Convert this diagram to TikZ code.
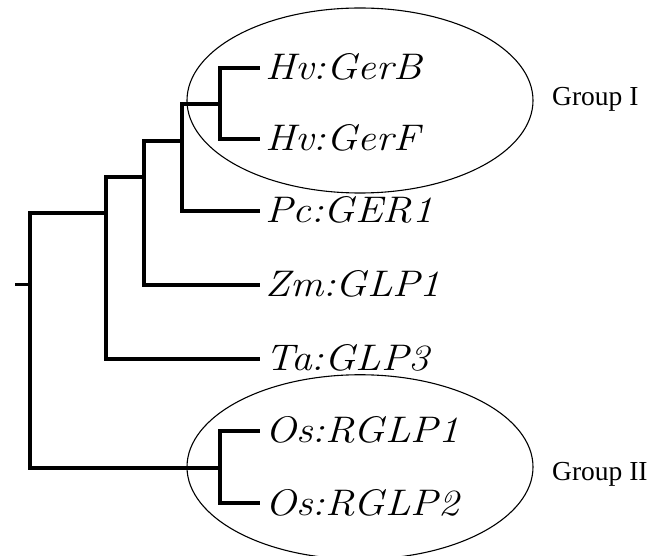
\documentclass[tikz,border=0pt]{standalone}
\usepackage{fontspec}
\usepackage{graphicx}
\newfontfamily\timesfont{Liberation Serif}
\usetikzlibrary{shapes.geometric}
\newcommand{\wideleaf}[1]{\scalebox{1.12}[1]{#1}}
\tikzset{
  branch/.style={line width=4pt, line join=miter, line cap=rect},
  leaf/.style={anchor=west, inner xsep=7pt, inner ysep=0pt, text height=24pt, text depth=0pt,
    font=\fontsize{37}{40}\selectfont\itshape},
  grp/.style={draw, ellipse, line width=1.1pt, inner sep=0pt},
  grplabel/.style={anchor=base west, inner sep=0pt, font=\timesfont\fontsize{27.5}{30}\selectfont},
}
\begin{document}
\begin{tikzpicture}[x=1pt,y=-1pt]
\useasboundingbox (0,0) rectangle (657,556);
% group ellipses
\node[grp, minimum width=346pt, minimum height=185pt] (g1) at (360,100.5) {};
\node[grp, minimum width=346pt, minimum height=184.5pt] (g2) at (360,467) {};
% leaves
\node[leaf] (gerB) at (258,68) {\wideleaf{Hv:GerB}};
\node[leaf] (gerF) at (258,139) {\wideleaf{Hv:GerF}};
\node[leaf] (pc) at (258,211) {\wideleaf{Pc:GER1}};
\node[leaf] (zm) at (258,285) {\wideleaf{Zm:GLP1}};
\node[leaf] (ta) at (258,359) {\wideleaf{Ta:GLP3}};
\node[leaf] (os1) at (258,431) {\wideleaf{Os:RGLP1}};
\node[leaf] (os2) at (258,503) {\wideleaf{Os:RGLP2}};
% internal nodes
\coordinate (hv) at (220,104);
\coordinate (p1) at (182,141);
\coordinate (p2) at (144,177);
\coordinate (p3) at (106,213);
\coordinate (os) at (220,468.5);
\coordinate (root) at (29.5,285);
\coordinate (stub) at (15,285);
% branches
\draw[branch] (hv) |- (gerB.west);
\draw[branch] (hv) |- (gerF.west);
\draw[branch] (p1) |- (hv);
\draw[branch] (p1) |- (pc.west);
\draw[branch] (p2) |- (p1);
\draw[branch] (p2) |- (zm.west);
\draw[branch] (p3) |- (p2);
\draw[branch] (p3) |- (ta.west);
\draw[branch] (root) |- (p3);
\draw[branch] (root) |- (os);
\draw[branch] (os) |- (os1.west);
\draw[branch] (os) |- (os2.west);
\draw[line width=3pt] (stub) -- (root);
% group labels
\node[grplabel] (l1) at (552,106) {Group I};
\node[grplabel] (l2) at (552,481) {Group II};
\end{tikzpicture}
\end{document}
